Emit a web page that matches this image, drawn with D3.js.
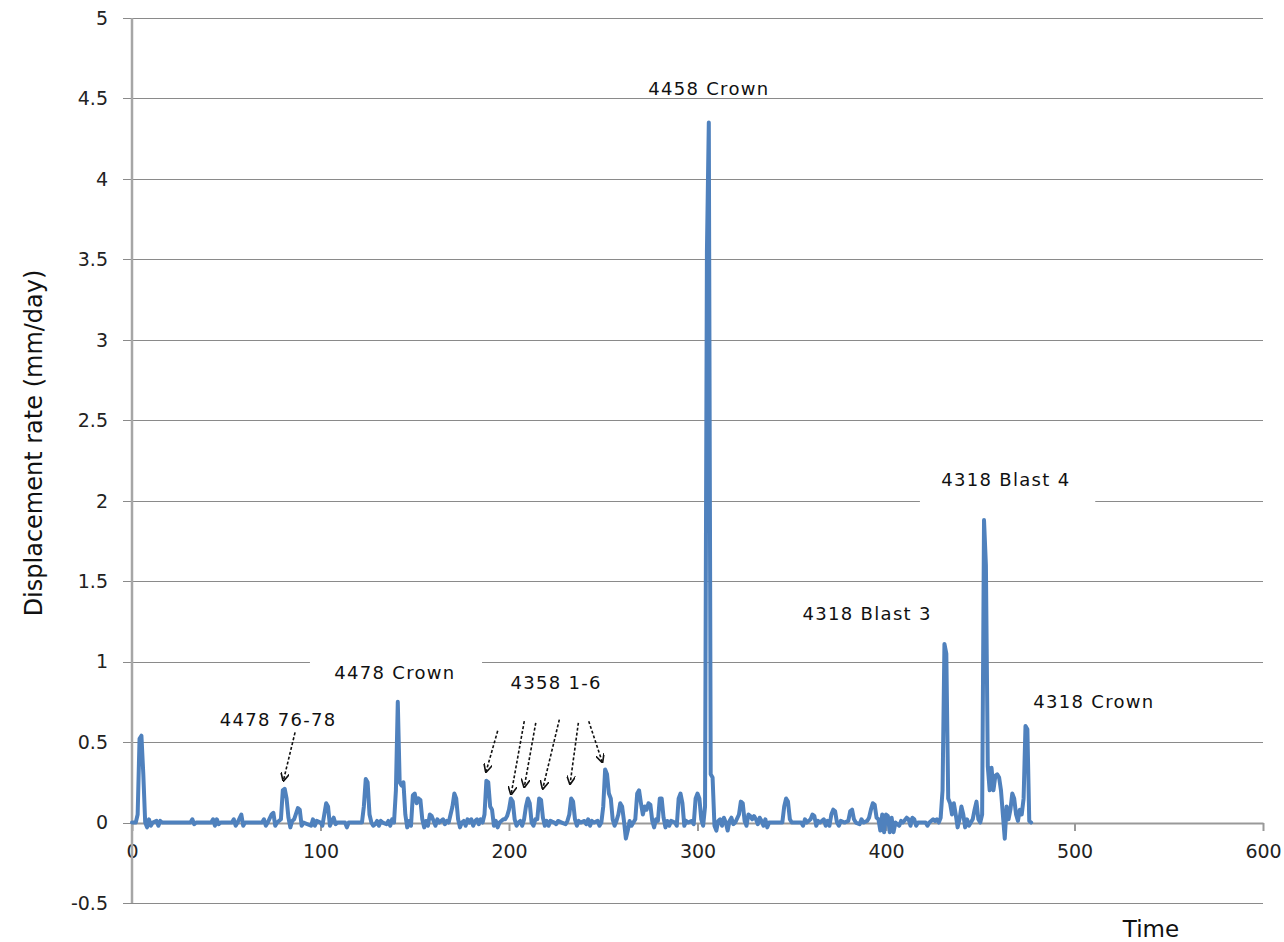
<!DOCTYPE html>
<html>
<head>
<meta charset="utf-8">
<script src="https://cdn.jsdelivr.net/npm/d3@7"></script>
<style>
  body { margin: 0; background: #fff; }
  text { font-family: "DejaVu Sans", sans-serif; }
</style>
</head>
<body>
<script>
// time axis (days) and displacement rate (mm/day)
var times = [0,2,3,4,5,6,7,8,9,10,11,13,14,15,16,31,32,33,34,42,43,44,45,46,47,53,54,55,56,58,59,60,
  69,70,71,72,74,75,76,77,79,80,81,82,83,84,85,86,88,89,90,91,95,96,97,98,100,101,102,103,104,105,106,107,108,109,
  113,114,115,122,123,124,125,126,127,128,129,130,131,132,133,135,136,137,138,139,140,141,142,143,144,145,146,147,148,
  149,150,151,152,153,154,155,156,157,158,159,160,161,162,163,165,166,167,168,170,171,172,173,174,175,176,177,178,179,
  180,181,182,183,184,185,186,187,188,189,190,191,192,193,194,195,197,198,199,200,201,202,203,204,205,206,207,208,209,
  210,211,212,213,214,215,216,217,218,219,220,221,222,224,225,226,228,230,231,232,233,234,235,236,237,238,240,241,242,
  243,244,245,247,248,249,250,251,252,253,254,255,256,257,258,259,260,261,262,263,264,265,266,267,268,269,270,271,272,
  273,274,275,276,277,278,279,280,281,282,283,284,285,286,288,289,290,291,292,293,294,295,297,298,299,300,301,302,303,
  304,305,306,306.5,307,308,309,310,311,312,313,314,315,316,317,318,319,320,322,323,324,325,326,327,328,329,330,331,332,
  333,334,335,336,337,338,345,346,347,348,349,350,355,356,357,358,360,361,362,363,364,365,367,368,369,370,371,372,373,374,
  375,376,378,380,381,382,383,384,386,387,388,390,391,392,393,394,395,396,397,398,399,400,401,402,403,404,405,407,408,
  409,411,412,413,414,415,416,417,421,422,423,425,426,427,428,429,430,431,432,433,434,435,436,437,438,439,440,441,442,
  443,444,445,446,447,448,449,450,451,452,453,454,455,456,457,458,459,460,461,462,463,464,465,466,467,468,469,470,471,
  472,473,474,475,476,477];
var rates = [0,0,0.05,0.52,0.54,0.3,0,-0.03,0.02,-0.02,0,0.01,-0.02,0.01,0,0,0.02,-0.01,0,0,0.02,-0.02,0.02,-0.01,0,0,0.02,-0.02,0,0.05,-0.02,0,
  0,0.02,-0.02,0,0.05,0.06,-0.02,0,0.02,0.2,0.21,0.15,0.03,-0.03,0.01,0.02,0.09,0.08,-0.02,0,-0.02,0.02,-0.02,0.01,0,-0.02,0.05,0.12,0.1,-0.02,0.01,0.03,-0.01,0,
  0,-0.03,0,0,0.1,0.27,0.25,0.05,0,-0.02,-0.01,0.01,-0.02,0.01,0,-0.01,0.01,-0.02,0.02,0,0.2,0.75,0.25,0.23,0.25,0.05,-0.03,0.01,-0.02,
  0.17,0.18,0.12,0.15,0.14,0.02,-0.03,0.01,-0.02,0.05,0.04,0.01,-0.02,0.02,0,0.02,-0.01,0.01,0,0.1,0.18,0.15,0.02,-0.03,0,0.01,-0.02,0.02,0,
  0.02,-0.02,0.01,0.02,-0.01,0.02,0,0.05,0.26,0.25,0.1,0.08,-0.02,0.01,-0.03,0,0.02,0.02,0.04,0.08,0.15,0.13,0.02,-0.02,0,0.01,-0.02,0.02,0.1,
  0.15,0.12,0,-0.02,0.02,0.02,0.15,0.14,0.03,-0.02,0.01,-0.02,0.01,0,-0.01,0.01,0,-0.01,0.01,0.05,0.15,0.13,0.02,-0.02,0.01,0,0.01,-0.01,0.02,
  -0.02,0.01,0,0.01,-0.02,0,0.1,0.33,0.3,0.18,0.15,0.02,-0.02,0.01,0.05,0.12,0.1,0.01,-0.1,-0.05,0.01,-0.02,0,0.02,0.18,0.2,0.12,0.05,0.1,
  0.08,0.12,0.11,0.01,-0.03,0.02,0.01,0.15,0.15,0.03,-0.03,0.01,-0.02,0.01,0,-0.02,0.15,0.18,0.12,-0.02,0.01,0,0.01,-0.01,0.15,0.18,0.15,0.02,-0.02,
  0.1,3.55,4.35,2.3,0.3,0.28,-0.02,-0.05,0.01,0.02,-0.02,0.03,0,-0.05,0.01,0.03,-0.01,0,0.05,0.13,0.12,0.01,-0.02,0.05,0.04,0.02,0.04,0.02,-0.01,
  0.03,0.01,-0.02,0.02,-0.03,0,0,0.1,0.15,0.13,0.02,0,0,-0.02,0.02,0,0.02,0.05,0.04,-0.02,0.01,0,0.02,-0.02,0.01,-0.02,0.05,0.08,0.07,0,
  -0.02,0.01,0,0.01,0.07,0.08,0.02,0,-0.01,0.02,0,0.01,0.03,0.08,0.12,0.11,0.03,0.02,-0.05,0.05,-0.06,0.05,0.04,-0.06,0.03,-0.06,0,-0.02,0.01,
  0,0.03,0.02,-0.02,0.03,0.02,-0.02,0,0,-0.02,0,0.02,0.01,0.02,0,0.03,0.2,1.11,1.05,0.15,0.12,0.05,0.12,0.05,-0.03,0.02,0.1,0.05,-0.03,
  0.02,-0.02,0,0.02,0.08,0.13,0.02,0,0.05,1.88,1.6,0.35,0.2,0.34,0.2,0.29,0.3,0.28,0.2,0.05,-0.1,0.1,0.02,0.08,0.18,0.15,0.05,0.01,0.08,
  0.05,0.15,0.6,0.58,0.01,0];

var xTicks = [0, 100, 200, 300, 400, 500, 600];
var yTicks = [-0.5, 0, 0.5, 1, 1.5, 2, 2.5, 3, 3.5, 4, 4.5, 5];

// annotation labels: text, centre time, baseline rate
var labelText = ["4458 Crown", "4318 Blast 4", "4318 Blast 3", "4478 Crown", "4358 1-6", "4478 76-78", "4318 Crown"];
var labelX = [306, 463.6, 390, 139.5, 225, 77.5, 510.3];
var labelY = [4.52, 2.09, 1.26, 0.89, 0.83, 0.6, 0.71];

// arrows: start (t, rate) -> end (t, rate)
var arrowFrom = [[86.5, 0.56], [194, 0.57], [208.1, 0.63], [214.2, 0.62], [226.7, 0.64], [236.8, 0.62], [242.3, 0.63]];
var arrowTo = [[80.3, 0.26], [187.8, 0.315], [201.1, 0.175], [208.1, 0.22], [217.9, 0.21], [232.4, 0.24], [249.5, 0.375]];

// white label boxes that hide the gridline behind two labels
var boxX = [[94.4, 185.7], [418, 511]];
var boxY = [[1.02, 0.86], [2.2, 1.97]];

var width = 1284, height = 942;
var margin = {top: 18, right: 21, bottom: 39, left: 132};

var svg = d3.select("body").append("svg")
  .attr("width", width)
  .attr("height", height);

svg.append("rect").attr("width", width).attr("height", height).attr("fill", "#fff");

var x = d3.scaleLinear().domain([0, 600]).range([margin.left, width - margin.right]);
var y = d3.scaleLinear().domain([-0.5, 5]).range([height - margin.bottom, margin.top]);

// horizontal gridlines with outward ticks
svg.append("g")
  .selectAll("line")
  .data(yTicks)
  .enter().append("line")
    .attr("x1", x(0) - 9)
    .attr("x2", x(600))
    .attr("y1", d => Math.round(y(d)) + 0.5)
    .attr("y2", d => Math.round(y(d)) + 0.5)
    .attr("stroke", "#8a8a8a")
    .attr("stroke-width", 1.2);

// y tick labels
svg.append("g")
  .selectAll("text")
  .data(yTicks)
  .enter().append("text")
    .attr("x", x(0) - 24)
    .attr("y", d => y(d))
    .attr("dy", "0.36em")
    .attr("text-anchor", "end")
    .attr("font-size", 19)
    .attr("fill", "#222")
    .text(d => d);

// x axis sits on zero
var xAxis = d3.axisBottom(x).tickValues(xTicks).tickSize(8).tickPadding(14).tickSizeOuter(0);
var gx = svg.append("g")
  .attr("transform", "translate(0," + Math.round(y(0)) + ")")
  .call(xAxis);
gx.select(".domain").attr("stroke", "#999").attr("stroke-width", 2);
gx.selectAll(".tick line").attr("stroke", "#999").attr("stroke-width", 2);
gx.selectAll(".tick text")
  .attr("font-family", "DejaVu Sans")
  .attr("font-size", 19)
  .attr("fill", "#222");

// y axis line
svg.append("line")
  .attr("x1", x(0)).attr("x2", x(0))
  .attr("y1", y(5)).attr("y2", y(-0.5))
  .attr("stroke", "#a6a6a6")
  .attr("stroke-width", 2.5);

// label boxes
svg.append("g")
  .selectAll("rect")
  .data(boxX)
  .enter().append("rect")
    .attr("x", d => x(d[0]))
    .attr("width", d => x(d[1]) - x(d[0]))
    .attr("y", (d, i) => y(boxY[i][0]))
    .attr("height", (d, i) => y(boxY[i][1]) - y(boxY[i][0]))
    .attr("fill", "#fff");

// the series
var line = d3.line()
  .x((d, i) => x(times[i]))
  .y(d => y(d));

svg.append("path")
  .datum(rates)
  .attr("fill", "none")
  .attr("stroke", "#4f81bd")
  .attr("stroke-width", 4)
  .attr("stroke-linejoin", "round")
  .attr("stroke-linecap", "round")
  .attr("d", line);

// annotation texts
svg.append("g")
  .selectAll("text")
  .data(labelText)
  .enter().append("text")
    .attr("x", (d, i) => x(labelX[i]))
    .attr("y", (d, i) => y(labelY[i]))
    .attr("text-anchor", "middle")
    .attr("font-size", 18)
    .attr("letter-spacing", 1.3)
    .attr("fill", "#111")
    .text(d => d);

// arrows
svg.append("defs").append("marker")
  .attr("id", "head")
  .attr("viewBox", "0 0 10 10")
  .attr("refX", 9).attr("refY", 5)
  .attr("markerWidth", 9).attr("markerHeight", 9)
  .attr("markerUnits", "userSpaceOnUse")
  .attr("orient", "auto")
  .append("path")
    .attr("d", "M0,0 L10,5 L0,10")
    .attr("fill", "none")
    .attr("stroke", "#111")
    .attr("stroke-width", 1.8);

svg.append("g")
  .selectAll("line")
  .data(arrowFrom)
  .enter().append("line")
    .attr("x1", d => x(d[0]))
    .attr("y1", d => y(d[1]))
    .attr("x2", (d, i) => x(arrowTo[i][0]))
    .attr("y2", (d, i) => y(arrowTo[i][1]))
    .attr("stroke", "#111")
    .attr("stroke-width", 1.6)
    .attr("stroke-dasharray", "3,2")
    .attr("marker-end", "url(#head)");

// axis titles
svg.append("text")
  .attr("transform", "translate(42,443) rotate(-90)")
  .attr("text-anchor", "middle")
  .attr("font-family", "Open Sans")
  .attr("font-size", 24)
  .attr("fill", "#111")
  .text("Displacement rate (mm/day)");

svg.append("text")
  .attr("x", 1151)
  .attr("y", 937)
  .attr("text-anchor", "middle")
  .attr("font-family", "Open Sans")
  .attr("font-size", 23)
  .attr("fill", "#111")
  .text("Time");
</script>
</body>
</html>
